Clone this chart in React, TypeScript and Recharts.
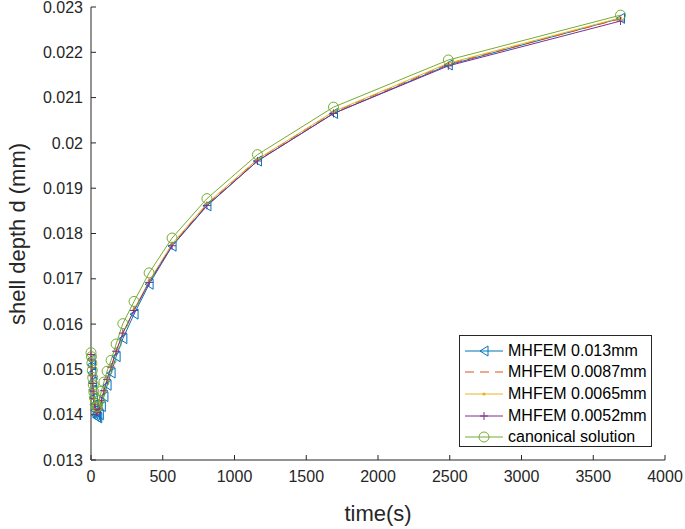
import { Legend, Line, LineChart, XAxis, YAxis } from 'recharts';

// time points (s), shared by all series
const times = [
  0, 3, 6, 9, 12, 16, 20, 25, 31, 38, 47, 58, 72, 90, 112, 140, 175, 222, 300, 405, 565, 808,
  1160, 1690, 2490, 3690,
];

const mhfem013 = [
  0.01522, 0.0151, 0.01492, 0.01472, 0.01455, 0.01438, 0.01422, 0.0141, 0.014, 0.01395, 0.01393,
  0.014, 0.01418, 0.0144, 0.01465, 0.01492, 0.01528, 0.01568, 0.01622, 0.01688, 0.01772, 0.01861,
  0.0196, 0.02065, 0.02172, 0.02275,
];
const mhfem0087 = [
  0.0153, 0.01518, 0.015, 0.01482, 0.01465, 0.01448, 0.01432, 0.01419, 0.01409, 0.01403, 0.01402,
  0.0141, 0.01428, 0.0145, 0.01475, 0.01502, 0.01537, 0.01578, 0.0163, 0.01693, 0.01775, 0.01864,
  0.01963, 0.02068, 0.02174, 0.02274,
];
const mhfem0065 = [
  0.01532, 0.0152, 0.01503, 0.01485, 0.01468, 0.01451, 0.01435, 0.01422, 0.01411, 0.01405,
  0.01404, 0.01412, 0.0143, 0.01452, 0.01477, 0.01504, 0.01539, 0.0158, 0.01632, 0.01695, 0.01777,
  0.01866, 0.01964, 0.02069, 0.02176, 0.02276,
];
const mhfem0052 = [
  0.01533, 0.01521, 0.01504, 0.01486, 0.01469, 0.01452, 0.01436, 0.01423, 0.01412, 0.01406,
  0.01405, 0.01413, 0.01431, 0.01453, 0.01478, 0.01505, 0.0154, 0.0158, 0.0163, 0.01692, 0.01773,
  0.01862, 0.0196, 0.02065, 0.0217, 0.02269,
];
const canonical = [
  0.01537, 0.01528, 0.01514, 0.01498, 0.01482, 0.01466, 0.0145, 0.01437, 0.01425, 0.01417,
  0.01418, 0.01432, 0.01452, 0.01472, 0.01496, 0.0152, 0.01556, 0.01601, 0.0165, 0.01713, 0.0179,
  0.01877, 0.01974, 0.02079, 0.02183, 0.02282,
];

const xTicks = [0, 500, 1000, 1500, 2000, 2500, 3000, 3500, 4000];
const yTicks = [0.013, 0.014, 0.015, 0.016, 0.017, 0.018, 0.019, 0.02, 0.021, 0.022, 0.023];

const data = times.map((t, i) => ({
  t,
  a: mhfem013[i],
  b: mhfem0087[i],
  c: mhfem0065[i],
  d: mhfem0052[i],
  e: canonical[i],
}));

const BLUE = '#0072BD';
const ORANGE = '#D95319';
const YELLOW = '#EDB120';
const PURPLE = '#7E2F8E';
const GREEN = '#77AC30';
const AXIS = '#262626';
const FONT = '"Liberation Sans", Arial, Helvetica, sans-serif';

const triangle = (cx: number, cy: number, color: string, key?: any) => (
  <path
    key={key}
    d={`M${cx - 4},${cy} L${cx + 4},${cy - 5} L${cx + 4},${cy + 5} Z`}
    fill="none"
    stroke={color}
    strokeWidth={1}
  />
);
const plus = (cx: number, cy: number, color: string, key?: any) => (
  <path key={key} d={`M${cx - 4},${cy} H${cx + 4} M${cx},${cy - 4} V${cy + 4}`} stroke={color} strokeWidth={1} />
);
const circle = (cx: number, cy: number, color: string, key?: any) => (
  <circle key={key} cx={cx} cy={cy} r={5} fill="none" stroke={color} strokeWidth={1} />
);
const dotMark = (cx: number, cy: number, color: string, key?: any) => (
  <circle key={key} cx={cx} cy={cy} r={1.6} fill={color} stroke="none" />
);

const legendItems = [
  { name: 'MHFEM 0.013mm', color: BLUE, dash: undefined, mark: triangle },
  { name: 'MHFEM 0.0087mm', color: ORANGE, dash: '9 6', mark: null },
  { name: 'MHFEM 0.0065mm', color: YELLOW, dash: undefined, mark: dotMark },
  { name: 'MHFEM 0.0052mm', color: PURPLE, dash: undefined, mark: plus },
  { name: 'canonical solution', color: GREEN, dash: undefined, mark: circle },
];

function LegendBox() {
  return (
    <div
      style={{
        border: `1px solid ${AXIS}`,
        background: '#fff',
        boxSizing: 'border-box',
        width: 193,
        height: 112,
        paddingTop: 4,
        fontFamily: FONT,
        fontSize: 16,
        color: '#000',
      }}
    >
      {legendItems.map((it) => (
        <div key={it.name} style={{ display: 'flex', alignItems: 'center', height: 21.6, paddingLeft: 5 }}>
          <svg width={38} height={14} style={{ display: 'block' }}>
            <line x1={0} y1={7} x2={38} y2={7} stroke={it.color} strokeWidth={1} strokeDasharray={it.dash} />
            {it.mark && it.mark(19, 7, it.color)}
          </svg>
          <span style={{ marginLeft: 5, whiteSpace: 'nowrap' }}>{it.name}</span>
        </div>
      ))}
    </div>
  );
}

const fmt = (v: number) => String(+v.toFixed(3));

export default function App() {
  return (
    <div style={{ position: 'absolute', left: 0, top: 0, background: '#fff' }}>
      <LineChart width={685} height={529} data={data} margin={{ top: 7, right: 20, bottom: 0, left: 0 }}>
        <XAxis
          xAxisId="main"
          dataKey="t"
          type="number"
          domain={[0, 4000]}
          ticks={xTicks}
          interval={0}
          height={69}
          stroke={AXIS}
          tickSize={-5}
          tickMargin={16}
          tick={{ fill: AXIS, fontSize: 16, fontFamily: FONT }}
          label={() => (
            <text x={378} y={521} textAnchor="middle" fontSize={22} fontFamily={FONT} fill={AXIS}>
              time(s)
            </text>
          )}
        />
        <XAxis
          xAxisId="top"
          orientation="top"
          dataKey="t"
          type="number"
          domain={[0, 4000]}
          ticks={xTicks}
          interval={0}
          height={0}
          stroke={AXIS}
          tickSize={-5}
          tick={false}
        />
        <YAxis
          yAxisId="main"
          type="number"
          domain={[0.013, 0.023]}
          ticks={yTicks}
          interval={0}
          width={91}
          stroke={AXIS}
          tickSize={-5}
          tickMargin={13}
          tickFormatter={fmt}
          tick={{ fill: AXIS, fontSize: 16, fontFamily: FONT }}
          label={() => (
            <text
              x={25}
              y={234}
              transform="rotate(-90 25 234)"
              textAnchor="middle"
              fontSize={22}
              fontFamily={FONT}
              fill={AXIS}
            >
              shell depth d (mm)
            </text>
          )}
        />
        <YAxis
          yAxisId="right"
          orientation="right"
          type="number"
          domain={[0.013, 0.023]}
          ticks={yTicks}
          interval={0}
          width={0}
          stroke={AXIS}
          tickSize={-5}
          tick={false}
        />
        <Line
          xAxisId="main"
          yAxisId="main"
          dataKey="a"
          stroke={BLUE}
          strokeWidth={1}
          type="linear"
          isAnimationActive={false}
          activeDot={false}
          dot={(p: any) => triangle(p.cx, p.cy, BLUE, `a${p.index}`)}
        />
        <Line
          xAxisId="main"
          yAxisId="main"
          dataKey="b"
          stroke={ORANGE}
          strokeWidth={1}
          strokeDasharray="9 6"
          type="linear"
          isAnimationActive={false}
          activeDot={false}
          dot={false}
        />
        <Line
          xAxisId="main"
          yAxisId="main"
          dataKey="c"
          stroke={YELLOW}
          strokeWidth={1}
          type="linear"
          isAnimationActive={false}
          activeDot={false}
          dot={(p: any) => dotMark(p.cx, p.cy, YELLOW, `c${p.index}`)}
        />
        <Line
          xAxisId="main"
          yAxisId="main"
          dataKey="d"
          stroke={PURPLE}
          strokeWidth={1}
          type="linear"
          isAnimationActive={false}
          activeDot={false}
          dot={(p: any) => plus(p.cx, p.cy, PURPLE, `d${p.index}`)}
        />
        <Line
          xAxisId="main"
          yAxisId="main"
          dataKey="e"
          stroke={GREEN}
          strokeWidth={1}
          type="linear"
          isAnimationActive={false}
          activeDot={false}
          dot={(p: any) => circle(p.cx, p.cy, GREEN, `e${p.index}`)}
        />
        <Legend
          layout="vertical"
          align="center"
          verticalAlign="middle"
          content={() => <LegendBox />}
          wrapperStyle={{ left: 459, top: 335, width: 193, height: 112 }}
        />
      </LineChart>
    </div>
  );
}
